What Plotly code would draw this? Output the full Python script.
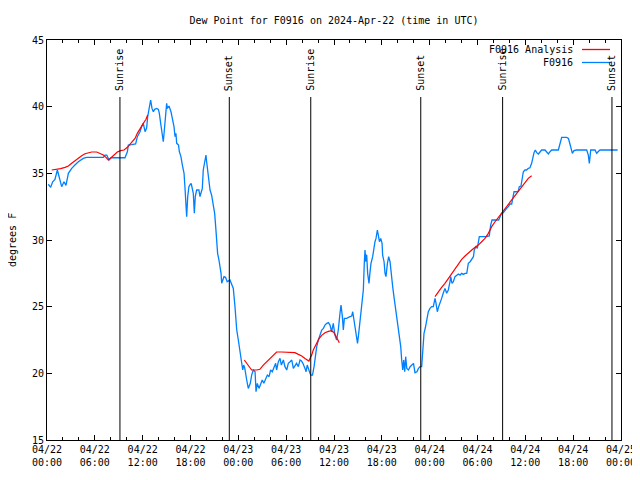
import pandas as pd
import plotly.graph_objects as go

# ---------------- data ----------------
start = "2024-04-22 00:00"
end = "2024-04-25 00:00"

# observed dew point (hours since 2024-04-22 00:00 UTC, degrees F)
obs_hours = [0.16, 0.46, 0.71, 1.0, 1.3, 1.55, 1.84, 2.13, 2.38, 2.68, 3.1, 3.5, 3.93, 4.55, 4.97,
             7.07, 7.27, 7.5, 7.78, 8.03, 9.78, 10.08, 10.2, 10.6, 11.12, 11.33, 11.67, 11.87, 12.08,
             12.3, 12.5, 12.63, 12.83, 13.0, 13.17, 13.34, 13.5, 13.76, 13.97, 14.09, 14.26, 14.47,
             14.59, 14.72, 14.89, 15.01, 15.1, 15.3, 15.55, 15.76, 15.93, 16.06, 16.17, 16.27, 16.5,
             16.6, 16.8, 16.98, 17.19, 17.3, 17.4, 17.52, 17.65, 17.8, 18.0, 18.1, 18.35, 18.48, 18.6,
             18.77, 19.05, 19.19, 19.35, 19.48, 19.6, 19.82, 19.94, 20.0, 20.15, 20.32, 20.45, 20.65,
             20.86, 21.03, 21.16, 21.25, 21.29, 21.4, 21.57, 21.7, 21.83, 21.91, 22.0, 22.2, 22.4,
             22.6, 22.95, 23.17, 23.37, 23.58, 23.8, 24.0, 24.2, 24.42, 24.55, 24.67, 24.8, 25.05,
             25.25, 25.5, 25.67, 25.88, 26.1, 26.22, 26.38, 26.59, 26.8, 27.0, 27.2, 27.43, 27.64,
             27.85, 28.05, 28.26, 28.47, 28.68, 28.8, 29.02, 29.23, 29.4, 29.65, 29.85, 30.07, 30.27,
             30.5, 30.7, 30.9, 31.1, 31.3, 31.53, 31.74, 31.9, 32.1, 32.36, 32.5, 32.64, 32.8, 32.99,
             33.1, 33.3, 33.5, 33.62, 33.83, 34.04, 34.25, 34.46, 34.67, 34.87, 35.1, 35.3, 35.5,
             35.7, 35.91, 36.12, 36.33, 36.54, 36.75, 36.88, 37.05, 37.17, 37.3, 37.6, 38.0, 38.22,
             38.35, 38.5, 38.67, 38.85, 38.95, 39.1, 39.26, 39.47, 39.68, 39.8, 39.89, 40.0, 40.1,
             40.22, 40.39, 40.5, 40.64, 40.85, 41.02, 41.14, 41.27, 41.44, 41.56, 41.7, 41.86, 42.03,
             42.1, 42.28, 42.4, 42.52, 42.7, 42.86, 43.03, 43.19, 43.36, 43.52, 43.7, 43.86, 44.03,
             44.2, 44.37, 44.49, 44.62, 44.74, 44.87, 44.99, 45.13, 45.34, 45.55, 45.76, 45.97, 46.16,
             46.4, 46.6, 46.8, 47.0, 47.08, 47.15, 47.29, 47.45, 47.63, 47.83, 48.04, 48.25, 48.46,
             48.67, 48.8, 48.96, 49.13, 49.3, 49.5, 49.7, 49.92, 50.13, 50.34, 50.55, 50.64, 50.8,
             50.97, 51.18, 51.39, 51.6, 51.81, 52.02, 52.23, 52.44, 52.65, 52.85, 53.07, 53.28, 53.49,
             53.6, 53.8, 53.98, 54.1, 54.23, 55.13, 55.48, 55.65, 55.82, 56.65, 56.82, 57.03, 57.24,
             57.45, 57.66, 57.87, 58.08, 58.29, 58.41, 58.58, 58.9, 59.12, 59.24, 59.45, 59.58, 59.75,
             59.95, 60.16, 60.37, 60.58, 60.79, 60.92, 61.09, 61.25, 61.43, 61.63, 61.84, 62.05, 62.47,
             62.68, 62.89, 63.1, 63.3, 64.14, 64.35, 64.56, 65.19, 65.4, 65.52, 65.69, 65.9, 66.1,
             66.44, 67.7, 67.9, 68.03, 68.2, 68.74, 68.95, 69.12, 69.37, 71.58]
obs_values = [34.18, 33.95, 34.37, 34.55, 35.25, 34.7, 34.0, 34.37, 34.1, 35.0, 35.37, 35.62, 35.87, 36.12, 36.2,
              36.2, 36.37, 36.37, 36.0, 36.17, 36.17, 36.62, 37.12, 37.15, 37.2, 37.75, 38.12, 38.5, 38.75,
              38.12, 38.4, 39.25, 39.87, 40.5, 39.87, 39.62, 39.8, 39.87, 39.8, 39.5, 38.75, 37.75,
              37.37, 38.25, 39.75, 40.25, 39.87, 40.05, 39.62, 39.0, 38.5, 37.75, 38.0, 37.25, 37.12,
              36.62, 36.25, 35.62, 35.0, 34.0, 33.25, 31.75, 33.25, 34.0, 34.2, 34.2, 33.5, 32.0, 33.25,
              33.75, 33.75, 33.25, 33.6, 33.85, 35.25, 36.12, 36.37, 36.0, 35.25, 34.5, 33.75, 33.37,
              32.75, 32.0, 31.0, 30.0, 29.25, 29.0, 28.5, 28.0, 27.5, 26.75, 26.9, 27.25, 27.2,
              26.87, 27.0, 26.6, 26.37, 25.0, 23.25, 22.5, 21.62, 20.75, 20.25, 20.62, 20.4, 19.5,
              18.87, 19.25, 19.87, 20.25, 20.12, 18.62, 19.25, 18.87, 19.25, 19.5, 19.25, 19.62, 19.87,
              19.75, 20.25, 20.12, 20.5, 20.75, 20.25, 20.87, 21.12, 20.62, 21.0, 20.5, 20.25, 20.75,
              20.87, 21.0, 20.37, 20.62, 20.75, 20.5, 21.0, 20.95, 20.75, 20.37, 20.12, 20.62, 20.25, 20.0,
              19.87, 19.87, 20.5, 21.25, 22.0, 22.5, 22.87, 23.25, 23.37, 23.62, 23.75, 23.8, 23.62,
              23.12, 23.75, 22.87, 22.5, 23.25, 24.5, 25.12, 24.25, 23.25, 24.12, 24.12, 24.25, 24.3,
              24.62, 24.0, 23.25, 22.62, 22.25, 23.0, 24.0, 24.75, 26.25, 28.25, 29.25, 28.37, 28.9,
              27.5, 26.75, 27.5, 28.25, 28.75, 29.62, 29.87, 30.12, 30.75, 30.37, 29.87, 30.12, 29.75,
              28.87, 28.37, 27.5, 27.25, 28.25, 28.75, 28.37, 27.25, 26.5, 25.75, 25.0, 24.5, 23.5,
              22.75, 22.0, 21.0, 20.25, 21.0, 20.12, 21.25, 20.37, 20.25, 20.5, 20.62, 20.75, 20.05,
              20.12, 20.37, 20.5, 20.5, 21.25, 22.2, 23.0, 23.4, 24.12, 24.62, 24.87, 25.0, 25.0,
              25.62, 25.25, 24.62, 25.0, 25.25, 25.62, 26.0, 26.37, 26.0, 26.25, 26.87, 27.25, 26.75,
              26.87, 27.25, 27.37, 27.45, 27.37, 27.5, 27.42, 27.5, 27.5, 28.25, 28.37, 28.62, 28.75,
              29.25, 29.5, 29.37, 29.75, 30.25, 30.25, 30.3, 31.12, 31.5, 31.5, 31.75, 32.0, 32.05,
              32.25, 32.37, 32.5, 32.7, 32.7, 33.25, 33.62, 33.62, 33.67, 34.0, 34.05, 34.5, 35.12,
              35.25, 35.25, 35.37, 35.42, 35.75, 36.12, 36.55, 36.75, 36.55, 36.45, 36.62, 36.75, 36.75,
              36.55, 36.45, 36.62, 36.75, 36.75, 37.25, 37.7, 37.7, 37.62, 37.37, 36.87, 36.5, 36.7,
              36.75, 36.75, 36.37, 35.75, 36.75, 36.75, 36.5, 36.62, 36.75, 36.75]

# analysis dew point (three separate segments; None marks a gap)
ana_hours = [0.59, 1.21, 1.71, 2.26, 2.68, 3.1, 3.51, 3.93, 4.35, 4.77, 5.19, 5.6, 6.23, 6.65, 7.07,
             7.4, 7.69, 8.0, 8.4, 8.82, 9.24, 9.66, 10.08, 10.41, 10.75, 11.04, 11.33, 11.67, 12.08,
             12.42, 12.63, 18.0,
             24.75, 25.25, 25.67, 26.3, 26.7, 27.13, 27.55, 27.97, 28.39, 28.8, 29.43, 30.07, 30.7,
             31.1, 31.53, 31.95, 32.36, 32.64, 32.85, 32.99, 33.2, 33.4, 33.62, 33.83, 34.12, 34.46,
             34.87, 35.3, 35.7, 36.0, 36.25, 36.46, 36.67, 42.0,
             48.67, 49.09, 49.5, 49.92, 50.34, 50.76, 51.18, 51.6, 52.02, 52.44, 52.85, 53.28, 53.7,
             54.1, 54.52, 54.94, 55.36, 55.78, 56.2, 56.62, 57.03, 57.45, 57.87, 58.29, 58.71, 59.12,
             59.54, 59.95, 60.37, 60.79]
ana_values = [35.25, 35.3, 35.35, 35.45, 35.55, 35.75, 35.95, 36.15, 36.32, 36.47, 36.55, 36.6, 36.6, 36.5, 36.37,
              36.2, 36.0, 36.15, 36.35, 36.6, 36.7, 36.75, 36.95, 37.17, 37.37, 37.62, 38.0, 38.37, 38.75,
              39.05, 39.37, None,
              21.0, 20.55, 20.25, 20.25, 20.3, 20.62, 20.87, 21.07, 21.37, 21.6, 21.6, 21.6, 21.6,
              21.55, 21.42, 21.3, 21.12, 21.0, 20.92, 21.12, 21.37, 21.75, 22.05, 22.3, 22.6, 22.85,
              23.05, 23.15, 23.2, 23.05, 22.75, 22.5, 22.3, None,
              25.75, 26.12, 26.45, 26.75, 27.12, 27.5, 27.87, 28.25, 28.55, 28.8, 29.05, 29.25, 29.45,
              29.62, 29.87, 30.12, 30.5, 31.0, 31.37, 31.7, 32.0, 32.32, 32.7, 33.05, 33.37, 33.7,
              34.05, 34.37, 34.62, 34.82]

sun_times = ["2024-04-22 09:09", "2024-04-22 22:52", "2024-04-23 09:05",
             "2024-04-23 22:53", "2024-04-24 09:09", "2024-04-24 22:52"]
sun_labels = ["Sunrise", "Sunset", "Sunrise", "Sunset", "Sunrise", "Sunset"]

tick_times = ["2024-04-22 00:00", "2024-04-22 06:00", "2024-04-22 12:00", "2024-04-22 18:00",
              "2024-04-23 00:00", "2024-04-23 06:00", "2024-04-23 12:00", "2024-04-23 18:00",
              "2024-04-24 00:00", "2024-04-24 06:00", "2024-04-24 12:00", "2024-04-24 18:00",
              "2024-04-25 00:00"]
tick_text = ["04/22<br>00:00", "04/22<br>06:00", "04/22<br>12:00", "04/22<br>18:00",
             "04/23<br>00:00", "04/23<br>06:00", "04/23<br>12:00", "04/23<br>18:00",
             "04/24<br>00:00", "04/24<br>06:00", "04/24<br>12:00", "04/24<br>18:00",
             "04/25<br>00:00"]

legend_names = ["F0916 Analysis", "F0916"]
RED = "#ff0000"
BLUE = "#0080ff"
FONT = "DejaVu Sans Mono"

# ---------------- figure ----------------
base = pd.Timestamp(start)
obs_t = base + pd.to_timedelta(obs_hours, unit="h")
ana_t = base + pd.to_timedelta(ana_hours, unit="h")

fig = go.Figure()
fig.add_trace(go.Scatter(x=obs_t, y=obs_values, mode="lines", name=legend_names[1],
                         line=dict(color=BLUE, width=1.3), showlegend=False))
fig.add_trace(go.Scatter(x=ana_t, y=ana_values, mode="lines", name=legend_names[0],
                         line=dict(color=RED, width=1.2), connectgaps=False, showlegend=False))

# the page body adds an 8px offset; target page-pixel geometry below
OFF = 8
W, H = 640 - OFF, 480 - OFF
PL, PR, PT, PB = 47, 621, 40, 440  # plot area in page pixels
L, T = PL - OFF, PT - OFF
R = W - (PR - OFF)
B = H - (PB - OFF)
pw, ph = PR - PL, PB - PT

def px_x(x):
    return (x - PL) / pw

def px_y(y):
    return (PB - y) / ph

line_top = px_y(97)
for t, lab in zip(sun_times, sun_labels):
    fig.add_shape(type="line", xref="x", yref="paper", x0=t, x1=t, y0=0, y1=line_top,
                  line=dict(color="black", width=1))
    fig.add_annotation(x=t, xref="x", yref="paper", y=px_y(93), text=lab, showarrow=False,
                       textangle=-90, xanchor="center", yanchor="bottom",
                       font=dict(family=FONT, size=10, color="black"))

# custom gnuplot-style key (text then line sample)
for i, (name, col) in enumerate(zip(legend_names, [RED, BLUE])):
    yy = px_y(49.5 + 13 * i)
    fig.add_annotation(x=px_x(575), y=yy, xref="paper", yref="paper", text=name,
                       showarrow=False, xanchor="right", yanchor="middle",
                       font=dict(family=FONT, size=10, color="black"))
    fig.add_shape(type="line", xref="paper", yref="paper", x0=px_x(582), x1=px_x(610),
                  y0=yy, y1=yy, line=dict(color=col, width=1.3))

fig.add_annotation(x=px_x(12), y=0.5, xref="paper", yref="paper", text="degrees F",
                   textangle=-90, showarrow=False, xanchor="center", yanchor="middle",
                   font=dict(family=FONT, size=10, color="black"))

fig.update_layout(
    width=W, height=H,
    margin=dict(l=L, r=R, t=T, b=B, pad=0, autoexpand=False),
    paper_bgcolor="white", plot_bgcolor="white",
    font=dict(family=FONT, size=10, color="black"),
    title=dict(text="Dew Point for F0916 on 2024-Apr-22 (time in UTC)", x=px_x(334), xref="paper",
               xanchor="center", y=1 - (20 - OFF) / H, yanchor="middle",
               font=dict(family=FONT, size=10, color="black")),
    showlegend=False,
)
fig.update_xaxes(range=[start, end], tickvals=tick_times, ticktext=tick_text,
                 showgrid=False, zeroline=False, showline=True, linecolor="black", linewidth=1,
                 mirror="allticks", ticks="inside", ticklen=5, tickcolor="black",
                 minor=dict(dtick=2 * 3600 * 1000, ticks="inside", ticklen=3, tickcolor="black"),
                 tickfont=dict(family=FONT, size=10, color="black"))
fig.update_yaxes(range=[15, 45], dtick=5, tick0=15,
                 showgrid=False, zeroline=False, showline=True, linecolor="black", linewidth=1,
                 mirror="allticks", ticks="inside", ticklen=5, tickcolor="black",
                 tickfont=dict(family=FONT, size=10, color="black"))

fig.write_html("out.html")
